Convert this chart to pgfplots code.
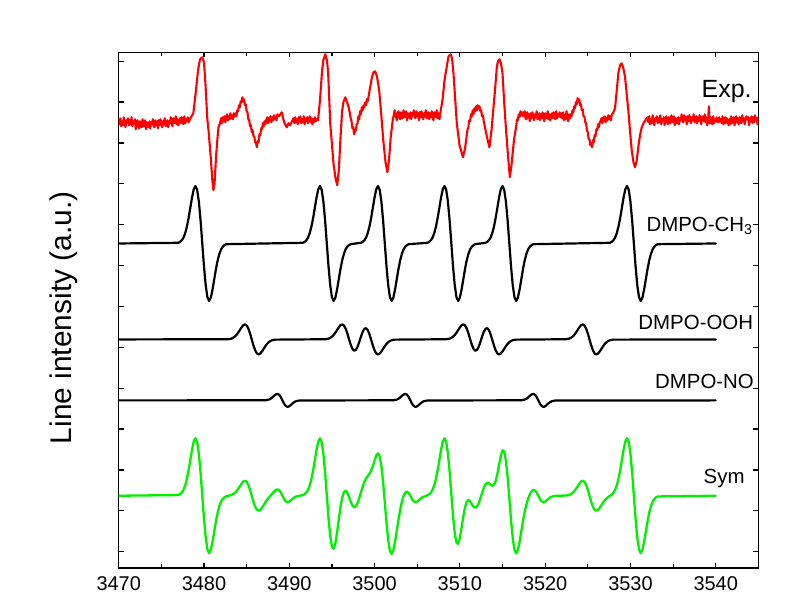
\documentclass[border=0pt]{standalone}
\usepackage{fontspec}
\setmainfont{Liberation Sans}
\usepackage{pgfplots}
\pgfplotsset{compat=1.18}
\definecolor{expred}{RGB}{255,0,0}
\definecolor{symgreen}{RGB}{0,240,0}
\begin{document}
\begin{tikzpicture}
\useasboundingbox (-118.7bp,-45bp) rectangle (687.3bp,568bp);
\begin{axis}[
  scale only axis, width=639.7bp, height=515.7bp,
  at={(0,0)}, anchor=south west,
  xmin=3470, xmax=3545, ymin=45, ymax=561,
  xtick={3470,3480,3490,3500,3510,3520,3530,3540},
  xticklabels={3470,3480,3490,3500,3510,3520,3530,3540},
  minor x tick num=1,
  ytick={61.3,102.2,143.1,184.0,224.9,265.8,306.7,347.6,388.5,429.4,470.3,511.2,552.1},
  yticklabels={},
  tick align=inside,
  major tick length=5bp, minor tick length=3.5bp,
  axis line style={line width=1.5bp},
  every tick/.style={black, line width=1.2bp},
  tick label style={font=\fontsize{20}{24}\selectfont},
  xticklabel style={yshift=-4.6bp},
  ylabel={Line intensity (a.u.)},
  ylabel style={font=\fontsize{30}{36}\selectfont, at={(axis description cs:-0.0735,0.485)}, anchor=base},
  every axis plot/.append style={line join=round, line cap=round},
]
% Exp.
\addplot[expred, line width=2.1bp] coordinates {
(3470.0,494)(3470.1,489)(3470.2,495)(3470.3,487)(3470.4,492)(3470.5,488)(3470.6,496)(3470.7,490)(3470.8,486)(3470.9,493)
(3471.0,491)(3471.1,495)(3471.2,488)(3471.3,493)(3471.4,489)(3471.5,496)(3471.6,487)(3471.7,492)(3471.8,490)(3471.9,494)
(3472.0,484)(3472.1,491)(3472.2,493)(3472.3,487)(3472.4,485)(3472.5,492)(3472.6,490)(3472.7,486)(3472.8,494)(3472.9,488)
(3473.0,487)(3473.1,493)(3473.2,484)(3473.3,491)(3473.4,490)(3473.5,486)(3473.6,492)(3473.7,485)(3473.8,491)(3473.9,489)
(3474.0,494)(3474.1,487)(3474.2,486)(3474.3,493)(3474.4,488)(3474.5,492)(3474.6,485)(3474.7,493)(3474.8,488)(3474.9,494)
(3475.0,491)(3475.1,486)(3475.2,492)(3475.3,489)(3475.4,495)(3475.5,487)(3475.6,490)(3475.7,493)(3475.8,486)(3475.9,492)
(3476.0,490)(3476.1,496)(3476.2,491)(3476.3,487)(3476.4,495)(3476.5,493)(3476.6,490)(3476.7,497)(3476.8,489)(3476.9,494)
(3477.0,488)(3477.1,493)(3477.2,495)(3477.3,490)(3477.4,496)(3477.5,491)(3477.6,489)(3477.7,497)(3477.8,490)(3477.9,494)
(3478.0,492)(3478.1,496)(3478.2,491)
(3478.40,495)(3478.75,500)(3479.06,523)(3479.30,543)(3479.53,554)(3479.80,556)(3480.00,551)(3480.18,528)(3480.39,494)
(3480.53,483)(3480.79,456)(3480.98,433)(3481.10,423)(3481.24,430)(3481.41,456)(3481.56,473)(3481.70,486)(3481.88,490)
(3482.0,495)(3482.1,490)(3482.2,496)(3482.3,492)(3482.4,497)(3482.5,491)(3482.6,495)(3482.7,499)(3482.8,493)(3482.9,497)
(3483.0,494)(3483.1,500)(3483.2,495)(3483.3,498)(3483.4,494)(3483.5,500)(3483.6,497)
(3483.7,500)(3483.8,497)(3483.9,503)(3484.0,502)(3484.1,508)(3484.2,506)(3484.3,512)(3484.4,511)(3484.5,516)(3484.6,512)
(3484.7,514)(3484.8,508)(3484.9,509)(3485.0,502)(3485.1,501)(3485.2,494)(3485.3,493)(3485.4,487)(3485.5,488)(3485.6,481)
(3485.7,483)(3485.8,477)(3485.9,477)(3486.0,471)(3486.1,470)(3486.2,466)(3486.3,472)(3486.4,471)(3486.5,479)(3486.6,478)
(3486.7,485)(3486.8,484)(3486.9,490)(3487.0,487)(3487.1,492)(3487.2,489)
(3487.3,493)(3487.4,496)(3487.5,490)(3487.6,495)(3487.7,492)(3487.8,497)(3487.9,491)(3488.0,496)(3488.1,493)(3488.2,498)
(3488.3,494)(3488.4,497)(3488.5,493)(3488.6,499)
(3488.80,497)(3489.11,501)(3489.30,494)(3489.50,489)(3489.70,486)(3489.90,490)(3490.10,488)(3490.32,492)
(3490.5,495)(3490.6,490)(3490.7,496)(3490.8,491)(3490.9,494)(3491.0,489)(3491.1,496)(3491.2,492)(3491.3,497)(3491.4,490)
(3491.5,494)(3491.6,491)(3491.7,497)(3491.8,489)(3491.9,495)(3492.0,492)(3492.1,496)(3492.2,490)(3492.3,494)(3492.4,497)
(3492.5,491)(3492.6,495)(3492.7,489)(3492.8,494)(3492.9,491)(3493.0,496)(3493.1,492)(3493.2,494)
(3493.37,493)(3493.60,513)(3493.83,541)(3493.99,553)(3494.22,559)(3494.42,553)(3494.56,540)(3494.80,490)(3495.18,450)
(3495.42,435)(3495.62,428)(3495.81,443)(3495.99,473)(3496.18,501)(3496.34,511)(3496.57,516)(3496.96,506)
(3497.1,500)(3497.2,495)(3497.3,492)(3497.4,485)(3497.5,486)(3497.6,479)(3497.7,482)(3497.8,483)(3497.9,489)(3498.0,490)
(3498.1,497)(3498.2,494)(3498.3,502)(3498.4,499)(3498.5,506)(3498.6,503)(3498.7,508)(3498.8,506)(3498.9,511)(3499.0,508)
(3499.1,514)(3499.2,512)(3499.3,517)
(3499.46,525)(3499.69,536)
(3499.87,541)(3500.06,542)(3500.28,537)(3500.54,523)(3500.79,498)(3501.02,473)(3501.28,451)(3501.50,441)(3501.69,453)
(3501.89,476)(3502.13,493)(3502.36,503)
(3502.6,493)(3502.7,500)(3502.8,502)(3502.9,496)(3503.0,494)(3503.1,501)(3503.2,499)(3503.3,495)(3503.4,503)(3503.5,497)
(3503.6,496)(3503.7,502)(3503.8,493)(3503.9,500)(3504.0,499)(3504.1,495)(3504.2,501)(3504.3,494)(3504.4,500)(3504.5,498)
(3504.6,503)(3504.7,496)(3504.8,495)(3504.9,502)(3505.0,497)(3505.1,500)(3505.2,493)(3505.3,501)(3505.4,496)(3505.5,502)
(3505.6,499)(3505.7,494)(3505.8,500)(3505.9,497)(3506.0,503)(3506.1,495)(3506.2,498)(3506.3,501)(3506.4,494)(3506.5,500)
(3506.6,496)(3506.7,502)(3506.8,497)(3506.9,493)(3507.0,501)(3507.1,499)(3507.2,496)(3507.3,503)(3507.4,495)(3507.5,500)
(3507.6,494)
(3507.72,501)(3507.96,513)(3508.20,533)(3508.45,546)(3508.67,557)(3508.93,559)(3509.08,555)(3509.25,540)(3509.64,490)
(3509.96,468)(3510.36,456)(3510.61,465)(3510.84,480)
(3510.9,484)(3511.0,486)(3511.1,493)(3511.2,492)(3511.3,499)(3511.4,497)(3511.5,503)(3511.6,499)(3511.7,505)(3511.8,502)
(3511.9,507)(3512.0,503)(3512.1,508)(3512.2,505)(3512.3,507)(3512.4,502)(3512.5,503)(3512.6,497)(3512.7,498)(3512.8,492)
(3513.18,476)(3513.46,466)(3513.71,483)(3513.94,506)(3514.12,523)(3514.33,546)(3514.47,552)(3514.66,554)
(3514.82,550)(3515.00,540)(3515.18,513)(3515.39,486)(3515.64,458)(3515.86,436)(3516.05,448)(3516.34,473)
(3516.6,487)(3516.7,494)(3516.8,493)(3516.9,499)(3517.0,496)(3517.1,502)(3517.2,498)(3517.3,501)
(3517.4,497)(3517.5,500)
(3517.6,502)(3517.7,495)(3517.8,494)(3517.9,501)(3518.0,496)(3518.1,499)(3518.2,492)(3518.3,500)(3518.4,495)(3518.5,501)
(3518.6,498)(3518.7,493)(3518.8,499)(3518.9,496)(3519.0,502)(3519.1,494)(3519.2,497)(3519.3,500)(3519.4,493)(3519.5,499)
(3519.6,495)(3519.7,501)(3519.8,496)(3519.9,492)(3520.0,500)(3520.1,498)(3520.2,495)(3520.3,502)(3520.4,494)(3520.5,499)
(3520.6,493)(3520.7,498)(3520.8,500)(3520.9,495)(3521.0,501)(3521.1,496)(3521.2,494)(3521.3,502)(3521.4,495)(3521.5,499)
(3521.6,497)(3521.7,501)(3521.8,496)(3521.9,500)(3522.0,495)(3522.1,501)(3522.2,493)(3522.3,498)(3522.4,494)(3522.5,502)
(3522.6,496)(3522.7,492)(3522.8,499)(3522.9,495)
(3523.0,499)(3523.1,497)(3523.2,503)(3523.3,501)(3523.4,507)(3523.5,505)(3523.6,511)(3523.7,509)(3523.8,515)(3523.9,512)
(3524.0,514)(3524.1,508)(3524.2,509)(3524.3,503)(3524.4,504)(3524.5,497)(3524.6,497)(3524.7,491)(3524.8,490)(3524.9,483)
(3525.0,481)(3525.1,474)(3525.2,474)(3525.3,468)(3525.4,470)(3525.5,466)(3525.6,473)(3525.7,471)(3525.8,478)(3525.9,477)
(3526.0,484)(3526.1,483)(3526.2,489)(3526.3,486)(3526.4,491)
(3526.5,492)(3526.6,495)(3526.7,490)(3526.8,496)(3526.9,492)(3527.0,497)(3527.1,491)(3527.2,495)(3527.3,493)(3527.4,498)
(3527.5,494)(3527.6,497)(3527.7,493)(3527.8,498)
(3528.00,501)(3528.19,505)(3528.42,525)(3528.58,540)(3528.78,548)(3528.98,550)(3529.17,545)(3529.37,536)(3529.55,520)
(3529.75,503)(3529.95,482)(3530.15,463)(3530.35,451)(3530.53,446)(3530.72,452)(3530.92,466)(3531.12,478)(3531.32,486)
(3531.6,491)(3531.91,495)
(3532.0,496)(3532.1,491)(3532.2,497)(3532.3,489)(3532.4,494)(3532.5,490)(3532.6,498)(3532.7,492)(3532.8,488)(3532.9,495)
(3533.0,493)(3533.1,497)(3533.2,490)(3533.3,495)(3533.4,491)(3533.5,498)(3533.6,489)(3533.7,494)(3533.8,492)(3533.9,496)
(3534.0,488)(3534.1,495)(3534.2,497)(3534.3,491)(3534.4,489)(3534.5,496)(3534.6,494)(3534.7,490)(3534.8,498)(3534.9,492)
(3535.0,491)(3535.1,497)(3535.2,488)(3535.3,495)(3535.4,494)(3535.5,490)(3535.6,496)(3535.7,489)(3535.8,495)(3535.9,493)
(3536.0,499)(3536.1,492)(3536.2,491)(3536.3,498)(3536.4,493)(3536.5,496)(3536.6,489)(3536.7,497)(3536.8,492)(3536.9,498)
(3537.0,495)(3537.1,490)(3537.2,496)(3537.3,493)(3537.4,499)(3537.5,491)(3537.6,494)(3537.7,497)(3537.8,490)(3537.9,496)
(3538.0,492)(3538.1,498)(3538.2,493)(3538.3,489)(3538.4,497)(3538.5,495)(3538.6,492)(3538.7,499)(3538.8,491)(3538.9,496)
(3539.0,488)(3539.1,493)(3539.2,507)(3539.3,490)(3539.4,496)(3539.5,491)(3539.6,489)(3539.7,497)(3539.8,490)(3539.9,494)
(3540.0,492)(3540.1,496)(3540.2,491)(3540.3,491)(3540.4,496)(3540.5,492)(3540.6,494)(3540.7,490)(3540.8,497)(3540.9,489)
(3541.0,491)(3541.1,496)(3541.2,490)(3541.3,495)(3541.4,493)(3541.5,488)(3541.6,494)(3541.7,489)(3541.8,497)(3541.9,490)
(3542.0,494)(3542.1,496)(3542.2,488)(3542.3,492)(3542.4,497)(3542.5,491)(3542.6,495)(3542.7,489)(3542.8,496)(3542.9,493)
(3543.0,490)(3543.1,498)(3543.2,492)(3543.3,495)(3543.4,489)(3543.5,494)(3543.6,497)(3543.7,494)(3543.8,496)(3543.9,488)
(3544.0,495)(3544.1,492)(3544.2,497)(3544.3,490)(3544.4,496)(3544.5,491)(3544.6,498)(3544.7,493)(3544.8,495)(3544.9,489)
(3545.0,496)
};
% DMPO-CH3
\addplot[black, line width=2.2bp] coordinates {
(3470,369.7)
(3477.0,370.4)(3477.2,371.3)(3477.4,372.9)(3477.6,375.6)(3477.8,380.1)(3478.0,386.7)(3478.2,395.4)(3478.4,405.6)(3478.6,415.9)(3478.8,424.0)
(3479.0,427.2)(3479.2,423.4)(3479.4,411.5)(3479.6,392.7)(3479.8,369.7)(3480.0,346.7)(3480.2,327.9)(3480.4,316.0)(3480.6,312.2)(3480.8,315.5)
(3481.0,323.5)(3481.2,333.8)(3481.4,344.0)(3481.6,352.7)(3481.8,359.3)(3482.0,363.8)(3482.2,366.5)(3482.4,368.1)(3482.6,369.0)
(3491.6,370.4)(3491.8,371.3)(3492.0,372.9)(3492.2,375.6)(3492.4,380.1)(3492.6,386.7)(3492.8,395.4)(3493.0,405.6)(3493.2,415.9)(3493.4,424.0)
(3493.6,427.2)(3493.8,423.4)(3494.0,411.5)(3494.2,392.7)(3494.4,369.7)(3494.6,346.7)(3494.8,327.9)(3495.0,316.0)(3495.2,312.2)(3495.4,315.5)
(3495.6,323.5)(3495.8,333.8)(3496.0,344.0)(3496.2,352.7)(3496.4,359.3)(3496.6,363.8)(3496.8,366.5)(3497.0,368.1)(3497.2,369.0)
(3498.4,370.4)(3498.6,371.3)(3498.8,372.9)(3499.0,375.6)(3499.2,380.1)(3499.4,386.7)(3499.6,395.4)(3499.8,405.6)(3500.0,415.9)(3500.2,424.0)
(3500.4,427.2)(3500.6,423.4)(3500.8,411.5)(3501.0,392.7)(3501.2,369.7)(3501.4,346.7)(3501.6,327.9)(3501.8,316.0)(3502.0,312.2)(3502.2,315.5)
(3502.4,323.5)(3502.6,333.8)(3502.8,344.0)(3503.0,352.7)(3503.2,359.3)(3503.4,363.8)(3503.6,366.5)(3503.8,368.1)(3504.0,369.0)
(3506.2,370.4)(3506.4,371.3)(3506.6,372.9)(3506.8,375.6)(3507.0,380.1)(3507.2,386.7)(3507.4,395.4)(3507.6,405.6)(3507.8,415.9)(3508.0,424.0)
(3508.2,427.2)(3508.4,423.4)(3508.6,411.5)(3508.8,392.7)(3509.0,369.7)(3509.2,346.7)(3509.4,327.9)(3509.6,316.0)(3509.8,312.2)(3510.0,315.5)
(3510.2,323.5)(3510.4,333.8)(3510.6,344.0)(3510.8,352.7)(3511.0,359.3)(3511.2,363.8)(3511.4,366.5)(3511.6,368.1)(3511.8,369.0)
(3513.0,370.4)(3513.2,371.3)(3513.4,372.9)(3513.6,375.6)(3513.8,380.1)(3514.0,386.7)(3514.2,395.4)(3514.4,405.6)(3514.6,415.9)(3514.8,424.0)
(3515.0,427.2)(3515.2,423.4)(3515.4,411.5)(3515.6,392.7)(3515.8,369.7)(3516.0,346.7)(3516.2,327.9)(3516.4,316.0)(3516.6,312.2)(3516.8,315.5)
(3517.0,323.5)(3517.2,333.8)(3517.4,344.0)(3517.6,352.7)(3517.8,359.3)(3518.0,363.8)(3518.2,366.5)(3518.4,368.1)(3518.6,369.0)
(3527.6,370.4)(3527.8,371.3)(3528.0,372.9)(3528.2,375.6)(3528.4,380.1)(3528.6,386.7)(3528.8,395.4)(3529.0,405.6)(3529.2,415.9)(3529.4,424.0)
(3529.6,427.2)(3529.8,423.4)(3530.0,411.5)(3530.2,392.7)(3530.4,369.7)(3530.6,346.7)(3530.8,327.9)(3531.0,316.0)(3531.2,312.2)(3531.4,315.5)
(3531.6,323.5)(3531.8,333.8)(3532.0,344.0)(3532.2,352.7)(3532.4,359.3)(3532.6,363.8)(3532.8,366.5)(3533.0,368.1)(3533.2,369.0)
(3540,369.7)
};
% DMPO-OOH
\addplot[black, line width=2.2bp] coordinates {
(3470,273.7)
(3482.8,273.9)(3483.0,274.1)(3483.2,274.5)(3483.4,275.3)(3483.6,276.4)(3483.8,278.1)(3484.0,280.4)(3484.2,283.1)(3484.4,285.7)(3484.6,287.9)
(3484.8,288.7)(3485.0,287.7)(3485.2,284.6)(3485.4,279.7)(3485.6,273.7)(3485.8,267.7)(3486.0,262.8)(3486.2,259.7)(3486.4,258.7)(3486.6,259.6)
(3486.8,261.7)(3487.0,264.3)(3487.2,267.0)(3487.4,269.3)(3487.6,271.0)(3487.8,272.2)(3488.0,272.9)(3488.2,273.3)(3488.4,273.5)
(3494.2,273.9)(3494.4,274.1)(3494.6,274.5)(3494.8,275.3)(3495.0,276.4)(3495.2,278.1)(3495.4,280.4)(3495.6,283.1)(3495.8,285.7)(3496.0,287.9)
(3496.2,288.7)(3496.4,287.7)(3496.6,284.7)(3496.8,279.9)(3497.0,274.1)(3497.2,268.5)(3497.4,264.3)(3497.6,262.4)(3497.8,263.1)(3498.0,266.2)
(3498.2,271.0)(3498.4,276.4)(3498.6,281.2)(3498.8,284.3)(3499.0,285.0)(3499.2,283.1)(3499.4,278.9)(3499.6,273.3)(3499.8,267.5)(3500.0,262.7)
(3500.2,259.7)(3500.4,258.7)(3500.6,259.6)(3500.8,261.7)(3501.0,264.3)(3501.2,267.0)(3501.4,269.3)(3501.6,271.0)(3501.8,272.2)(3502.0,272.9)
(3502.2,273.3)(3502.4,273.5)
(3508.4,273.9)(3508.6,274.1)(3508.8,274.5)(3509.0,275.3)(3509.2,276.4)(3509.4,278.1)(3509.6,280.4)(3509.8,283.1)(3510.0,285.7)(3510.2,287.9)
(3510.4,288.7)(3510.6,287.7)(3510.8,284.7)(3511.0,279.9)(3511.2,274.1)(3511.4,268.5)(3511.6,264.3)(3511.8,262.4)(3512.0,263.1)(3512.2,266.2)
(3512.4,271.0)(3512.6,276.4)(3512.8,281.2)(3513.0,284.3)(3513.2,285.0)(3513.4,283.1)(3513.6,278.9)(3513.8,273.3)(3514.0,267.5)(3514.2,262.7)
(3514.4,259.7)(3514.6,258.7)(3514.8,259.6)(3515.0,261.7)(3515.2,264.3)(3515.4,267.0)(3515.6,269.3)(3515.8,271.0)(3516.0,272.2)(3516.2,272.9)
(3516.4,273.3)(3516.6,273.5)
(3522.4,273.9)(3522.6,274.1)(3522.8,274.5)(3523.0,275.3)(3523.2,276.4)(3523.4,278.1)(3523.6,280.4)(3523.8,283.1)(3524.0,285.7)(3524.2,287.9)
(3524.4,288.7)(3524.6,287.7)(3524.8,284.6)(3525.0,279.7)(3525.2,273.7)(3525.4,267.7)(3525.6,262.8)(3525.8,259.7)(3526.0,258.7)(3526.2,259.6)
(3526.4,261.7)(3526.6,264.3)(3526.8,267.0)(3527.0,269.3)(3527.2,271.0)(3527.4,272.2)(3527.6,272.9)(3527.8,273.3)(3528.0,273.5)
(3540,273.7)
};
% DMPO-NO
\addplot[black, line width=2.2bp] coordinates {
(3470,212.7)
(3487.2,212.8)(3487.4,213.1)(3487.6,213.5)(3487.8,214.3)(3488.0,215.6)(3488.2,217.2)(3488.4,218.6)(3488.6,219.2)(3488.8,218.4)(3489.0,216.1)
(3489.2,212.7)(3489.4,209.3)(3489.6,207.0)(3489.8,206.2)(3490.0,206.8)(3490.2,208.3)(3490.4,209.8)(3490.6,211.1)(3490.8,211.9)(3491.0,212.3)(3491.2,212.6)
(3502.2,212.8)(3502.4,213.1)(3502.6,213.5)(3502.8,214.3)(3503.0,215.6)(3503.2,217.2)(3503.4,218.6)(3503.6,219.2)(3503.8,218.4)(3504.0,216.1)
(3504.2,212.7)(3504.4,209.3)(3504.6,207.0)(3504.8,206.2)(3505.0,206.8)(3505.2,208.3)(3505.4,209.8)(3505.6,211.1)(3505.8,211.9)(3506.0,212.3)(3506.2,212.6)
(3517.2,212.8)(3517.4,213.1)(3517.6,213.5)(3517.8,214.3)(3518.0,215.6)(3518.2,217.2)(3518.4,218.6)(3518.6,219.2)(3518.8,218.4)(3519.0,216.1)
(3519.2,212.7)(3519.4,209.3)(3519.6,207.0)(3519.8,206.2)(3520.0,206.8)(3520.2,208.3)(3520.4,209.8)(3520.6,211.1)(3520.8,211.9)(3521.0,212.3)(3521.2,212.6)
(3540,212.7)
};
% Sym
\addplot[symgreen, line width=2.3bp] coordinates {
(3470,117.3)
(3477.0,118.0)(3477.2,118.9)(3477.4,120.5)(3477.6,123.2)(3477.8,127.7)(3478.0,134.3)(3478.2,143.0)(3478.4,153.2)(3478.6,163.5)(3478.8,171.6)
(3479.0,174.8)(3479.2,171.0)(3479.4,159.1)(3479.6,140.3)(3479.8,117.3)(3480.0,94.3)(3480.2,75.5)(3480.4,63.6)(3480.6,59.8)(3480.8,63.1)
(3481.0,71.1)(3481.2,81.4)(3481.4,91.6)(3481.6,100.3)(3481.8,106.9)(3482.0,111.4)(3482.2,114.1)(3482.4,115.7)(3482.6,116.6)
(3482.8,117.2)(3483.0,117.6)(3483.2,118.1)(3483.4,118.9)(3483.6,120.0)(3483.8,121.7)(3484.0,124.0)(3484.2,126.7)(3484.4,129.3)(3484.6,131.5)
(3484.8,132.3)(3485.0,131.3)(3485.2,128.2)(3485.4,123.3)(3485.6,117.3)(3485.8,111.3)(3486.0,106.4)(3486.2,103.3)(3486.4,102.3)(3486.6,103.2)
(3486.8,105.3)(3487.0,107.9)(3487.2,110.8)(3487.4,113.2)(3487.6,115.4)(3487.8,117.4)(3488.0,119.4)(3488.2,121.3)(3488.4,123.0)(3488.6,123.7)
(3488.8,123.0)(3489.0,120.7)(3489.2,117.3)(3489.4,113.9)(3489.6,111.6)(3489.8,110.8)(3490.0,111.4)(3490.2,112.9)(3490.4,114.4)(3490.6,115.7)
(3490.8,116.5)(3491.0,116.9)(3491.2,117.2)
(3491.6,118.0)(3491.8,118.9)(3492.0,120.5)(3492.2,123.2)(3492.4,127.7)(3492.6,134.3)(3492.8,143.0)(3493.0,153.2)(3493.2,163.5)(3493.4,171.6)
(3493.6,174.8)(3493.8,171.0)(3494.0,159.1)(3494.2,140.5)(3494.4,117.7)(3494.6,95.1)(3494.8,77.0)(3495.0,66.4)(3495.2,64.2)(3495.4,69.7)
(3495.6,80.5)(3495.8,93.5)(3496.0,105.8)(3496.2,115.3)(3496.4,120.9)(3496.6,122.4)(3496.8,120.3)(3497.0,116.1)(3497.2,111.4)(3497.4,107.6)
(3497.6,105.9)(3497.8,106.7)(3498.0,110.0)(3498.2,114.9)(3498.4,120.7)(3498.6,126.3)(3498.8,131.0)(3499.0,134.5)(3499.2,137.1)(3499.4,139.4)
(3499.6,142.6)(3499.8,147.0)(3500.0,152.5)(3500.2,157.5)(3500.4,159.8)(3500.6,156.8)(3500.8,147.1)(3501.0,130.9)(3501.2,110.6)(3501.4,89.9)
(3501.6,72.8)(3501.8,62.1)(3502.0,59.0)(3502.2,62.8)(3502.4,71.3)(3502.6,82.2)(3502.8,93.3)(3503.0,103.2)(3503.2,111.3)(3503.4,117.2)
(3503.6,120.6)(3503.8,121.5)(3504.0,120.0)(3504.2,117.0)(3504.4,113.8)(3504.6,111.6)(3504.8,110.8)(3505.0,111.4)(3505.2,112.9)(3505.4,114.4)
(3505.6,115.7)(3505.8,116.5)(3506.0,116.9)(3506.2,117.9)
(3506.4,118.8)(3506.6,120.5)(3506.8,123.2)(3507.0,127.7)(3507.2,134.3)(3507.4,143.0)(3507.6,153.2)(3507.8,163.5)(3508.0,171.6)(3508.2,174.8)
(3508.4,171.2)(3508.6,159.5)(3508.8,141.1)(3509.0,118.9)(3509.2,97.0)(3509.4,79.9)(3509.6,70.3)(3509.8,69.2)(3510.0,75.1)(3510.2,85.3)
(3510.4,96.4)(3510.6,105.7)(3510.8,111.3)(3511.0,113.1)(3511.2,111.8)(3511.4,109.0)(3511.6,106.4)(3511.8,105.3)(3512.0,106.4)(3512.2,109.7)
(3512.4,114.6)(3512.6,120.1)(3512.8,125.1)(3513.0,128.6)(3513.2,130.2)(3513.4,129.8)(3513.6,128.4)(3513.8,127.3)(3514.0,128.1)(3514.2,132.0)
(3514.4,139.2)(3514.6,148.5)(3514.8,157.4)(3515.0,162.8)(3515.2,161.6)(3515.4,152.4)(3515.6,135.9)(3515.8,114.6)(3516.0,92.8)(3516.2,74.7)
(3516.4,63.2)(3516.6,59.6)(3516.8,63.0)(3517.0,71.1)(3517.2,81.6)(3517.4,92.0)(3517.6,101.2)(3517.8,108.5)(3518.0,114.3)(3518.2,118.6)
(3518.4,121.6)(3518.6,123.1)(3518.8,122.7)(3519.0,120.6)(3519.2,117.3)(3519.4,113.9)(3519.6,111.6)(3519.8,110.8)(3520.0,111.4)(3520.2,112.9)
(3520.4,114.4)(3520.6,115.7)(3520.8,116.5)(3521.0,116.9)(3521.2,117.2)
(3522.4,117.5)(3522.6,117.7)(3522.8,118.1)(3523.0,118.9)(3523.2,120.0)(3523.4,121.7)(3523.6,124.0)(3523.8,126.7)(3524.0,129.3)(3524.2,131.5)
(3524.4,132.3)(3524.6,131.3)(3524.8,128.2)(3525.0,123.3)(3525.2,117.3)(3525.4,111.3)(3525.6,106.4)(3525.8,103.3)(3526.0,102.3)(3526.2,103.2)
(3526.4,105.3)(3526.6,107.9)(3526.8,110.6)(3527.0,112.9)(3527.2,114.7)(3527.4,116.1)(3527.6,117.2)(3527.8,118.5)(3528.0,120.3)(3528.2,123.2)
(3528.4,127.7)(3528.6,134.3)(3528.8,143.0)(3529.0,153.2)(3529.2,163.5)(3529.4,171.6)(3529.6,174.8)(3529.8,171.0)(3530.0,159.1)(3530.2,140.3)
(3530.4,117.3)(3530.6,94.3)(3530.8,75.5)(3531.0,63.6)(3531.2,59.8)(3531.4,63.1)(3531.6,71.1)(3531.8,81.4)(3532.0,91.6)(3532.2,100.3)
(3532.4,106.9)(3532.6,111.4)(3532.8,114.1)(3533.0,115.7)(3533.2,116.6)
(3540,117.3)
};
\node[anchor=base east, inner sep=0pt, font=\fontsize{25}{30}\selectfont] at (axis cs:3544.22,515.7) {Exp.};
\node[anchor=base east, inner sep=0pt, font=\fontsize{20.5}{24}\selectfont] at (axis cs:3544.34,381.3) {DMPO-CH\textsubscript{3}};
\node[anchor=base east, inner sep=0pt, font=\fontsize{20.5}{24}\selectfont] at (axis cs:3544.4,284) {DMPO-OOH};
\node[anchor=base east, inner sep=0pt, font=\fontsize{20.5}{24}\selectfont] at (axis cs:3544.49,224.7) {DMPO-NO};
\node[anchor=base east, inner sep=0pt, font=\fontsize{20.5}{24}\selectfont] at (axis cs:3543.4,129.7) {Sym};
\end{axis}
\end{tikzpicture}
\end{document}
